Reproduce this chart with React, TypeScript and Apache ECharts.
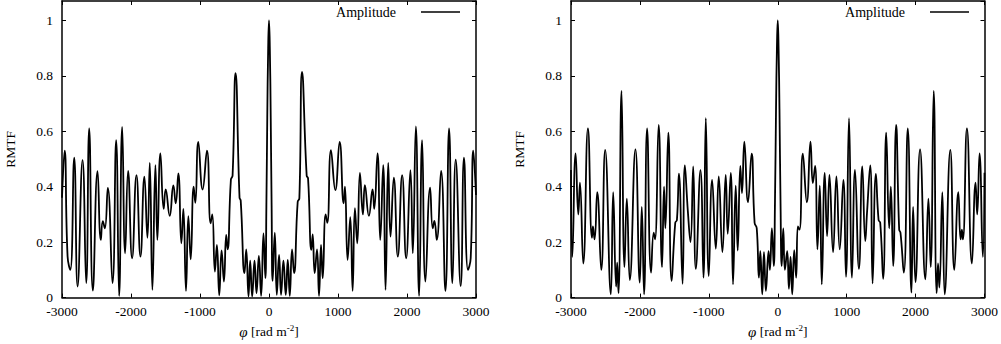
import React, { useEffect, useRef } from "react";
import * as echarts from "echarts";

// ---- Data (phi in rad m^-2, RMTF amplitude) ----
const leftPhi = [
  -3000, -2962, -2919, -2880, -2823, -2774, -2702, -2649, -2606, -2553, -2485, -2437, -2408, -2379, -2336,
  -2268, -2215, -2172, -2128, -2085, -2042, -1984, -1921, -1863, -1806, -1762, -1728, -1690, -1646, -1618,
  -1574, -1526, -1497, -1439, -1386, -1352, -1314, -1270, -1241, -1203, -1169, -1135, -1092, -1068, -1025,
  -962, -899, -846, -822, -784, -755, -721, -687, -653, -620, -600, -552, -528, -485, -427, -410, -355,
  -330, -297, -273, -244, -210, -181, -147, -114, -80, -53, -38, -25, -12, 0, 12, 25, 38, 53, 84, 113,
  146, 175, 209, 243, 272, 301, 334, 363, 416, 440, 479, 546, 566, 614, 633, 662, 696, 725, 754, 778,
  821, 845, 898, 961, 1024, 1082, 1101, 1139, 1178, 1212, 1245, 1279, 1318, 1361, 1390, 1448, 1501,
  1525, 1573, 1612, 1655, 1689, 1728, 1761, 1809, 1867, 1930, 1988, 2050, 2084, 2128, 2176, 2219, 2267,
  2335, 2373, 2397, 2431, 2494, 2557, 2610, 2658, 2706, 2778, 2826, 2884, 2923, 2961, 3000,
];
const leftRmtf = [
  0.36, 0.53, 0.148, 0.1, 0.505, 0.04, 0.496, 0.052, 0.61, 0.025, 0.456, 0.208, 0.276, 0.25, 0.396,
  0.052, 0.568, 0.006, 0.616, 0.16, 0.457, 0.142, 0.442, 0.148, 0.436, 0.216, 0.486, 0.028, 0.478, 0.208,
  0.52, 0.32, 0.39, 0.295, 0.405, 0.34, 0.448, 0.196, 0.32, 0.024, 0.294, 0.138, 0.4, 0.342, 0.562,
  0.39, 0.53, 0.268, 0.3, 0.094, 0.19, 0.008, 0.17, 0.058, 0.226, 0.174, 0.426, 0.44, 0.81, 0.36, 0.35, 0.088,
  0.174, 0.004, 0.133, 0.004, 0.133, 0.016, 0.15, 0.006, 0.232, 0.07, 0.33, 0.65, 0.9, 1.0, 0.9, 0.65, 0.33, 0.06, 0.234, 0.01,
  0.154, 0.01, 0.133, 0.01, 0.136, 0.006, 0.174, 0.088, 0.346, 0.358, 0.814, 0.44, 0.43, 0.172, 0.228, 0.088, 0.174, 0.006, 0.19, 0.07,
  0.3, 0.27, 0.532, 0.388, 0.562, 0.34, 0.4, 0.136, 0.29, 0.024, 0.323, 0.196, 0.45, 0.3, 0.406, 0.295, 0.39,
  0.32, 0.52, 0.208, 0.478, 0.028, 0.486, 0.22, 0.433, 0.148, 0.442, 0.142, 0.46, 0.16, 0.618, 0.006, 0.568, 0.058,
  0.397, 0.25, 0.277, 0.208, 0.457, 0.024, 0.61, 0.052, 0.498, 0.042, 0.505, 0.1, 0.142, 0.53, 0.37,
];

const rightPhi = [
  -3000, -2981, -2933, -2894, -2870, -2822, -2754, -2696, -2682, -2658, -2619, -2561, -2504, -2422, -2388,
  -2345, -2330, -2311, -2267, -2224, -2190, -2147, -2065, -2002, -1973, -1940, -1896, -1838, -1800, -1781,
  -1728, -1679, -1650, -1631, -1588, -1540, -1487, -1463, -1434, -1381, -1348, -1304, -1266, -1227, -1189,
  -1121, -1078, -1044, -1001, -952, -899, -856, -803, -755, -726, -682, -649, -610, -581, -543, -519, -485,
  -432, -379, -336, -305, -273, -253, -225, -200, -172, -133, -114, -85, -58, -40, -25, -12, 0, 12, 25, 40, 58,
  80, 104, 137, 162, 186, 210, 239, 267, 292, 316, 364, 422, 475, 509, 542, 576, 610, 639, 682, 716, 750,
  803, 851, 899, 952, 990, 1034, 1077, 1121, 1178, 1227, 1270, 1295, 1342, 1376, 1424, 1463, 1487, 1530,
  1574, 1617, 1641, 1675, 1718, 1762, 1781, 1829, 1887, 1940, 1964, 1998, 2065, 2142, 2186, 2219, 2263,
  2306, 2326, 2345, 2388, 2422, 2504, 2562, 2620, 2653, 2672, 2687, 2745, 2817, 2870, 2894, 2928, 2976, 3000,
];
const rightRmtf = [
  0.46, 0.147, 0.52, 0.3, 0.415, 0.123, 0.61, 0.216, 0.257, 0.21, 0.38, 0.1, 0.533, 0.012, 0.38,
  0.04, 0.126, 0.016, 0.746, 0.11, 0.357, 0.063, 0.535, 0.054, 0.327, 0.012, 0.61, 0.09, 0.234, 0.21,
  0.623, 0.11, 0.4, 0.25, 0.595, 0.06, 0.27, 0.28, 0.447, 0.05, 0.477, 0.31, 0.2, 0.473, 0.104,
  0.46, 0.072, 0.647, 0.078, 0.425, 0.176, 0.437, 0.164, 0.443, 0.23, 0.45, 0.048, 0.404, 0.17, 0.475, 0.377, 0.563,
  0.344, 0.519, 0.27, 0.25, 0.072, 0.168, 0.012, 0.164, 0.024, 0.168, 0.1, 0.25, 0.114, 0.35, 0.68, 0.9, 1.0, 0.9, 0.68, 0.35, 0.114,
  0.25, 0.1, 0.168, 0.032, 0.147, 0.012, 0.171, 0.072, 0.257, 0.245, 0.519, 0.344, 0.563, 0.413, 0.475, 0.174, 0.404, 0.048, 0.45, 0.222, 0.443,
  0.164, 0.437, 0.174, 0.425, 0.075, 0.647, 0.072, 0.461, 0.104, 0.473, 0.204, 0.305, 0.477, 0.051, 0.446, 0.28, 0.27, 0.068,
  0.595, 0.25, 0.4, 0.114, 0.623, 0.245, 0.234, 0.09, 0.61, 0.018, 0.327, 0.056, 0.535, 0.066, 0.357, 0.11, 0.746,
  0.016, 0.123, 0.036, 0.38, 0.012, 0.533, 0.1, 0.38, 0.21, 0.245, 0.21, 0.61, 0.123, 0.415, 0.3, 0.52, 0.147, 0.45,
];

const xTicks = [-3000, -2000, -1000, 0, 1000, 2000, 3000];
const yTicks = [0, 0.2, 0.4, 0.6, 0.8, 1];
const seriesName = "Amplitude";
const yTitle = "RMTF";

const FONT = "'Liberation Serif', 'Times New Roman', serif";

function pairs(xs: number[], ys: number[]) {
  return xs.map((x, i) => [x, ys[i]]);
}

export default function App() {
  const ref = useRef<HTMLDivElement>(null);

  useEffect(() => {
    if (!ref.current) return;
    const chart = echarts.init(ref.current, null, { renderer: "svg" });

    const grids = [
      { left: 62, top: 1, width: 414, height: 297 },
      { left: 571, top: 1, width: 415, height: 297 },
    ];

    const axisLine = { show: true, onZero: false, lineStyle: { color: "#000", width: 1.5 } };
    const tickIn = { show: true, inside: true, length: 4, lineStyle: { color: "#000", width: 1 } };

    const xAxes: any[] = [];
    const yAxes: any[] = [];
    grids.forEach((_, gi) => {
      xAxes.push({
        type: "value",
        gridIndex: gi,
        min: xTicks[0],
        max: xTicks[xTicks.length - 1],
        interval: 1000,
        position: "bottom",
        axisLine,
        axisTick: tickIn,
        splitLine: { show: false },
        axisLabel: {
          color: "#000",
          fontFamily: FONT,
          fontSize: 13.5,
          margin: 7,
          formatter: (v: number) => String(v),
        },
        name: "{g|φ} [rad m{s|-2}]",
        nameLocation: "middle",
        nameGap: 12,
        nameTextStyle: {
          color: "#000",
          fontFamily: FONT,
          fontSize: 13.5,
          rich: {
            g: { fontFamily: FONT, fontSize: 15, fontStyle: "italic", color: "#000" },
            s: { fontFamily: FONT, fontSize: 9, color: "#000", verticalAlign: "top", padding: [0, 0, 7, 0] },
          },
        },
      });
      xAxes.push({
        type: "value",
        gridIndex: gi,
        min: xTicks[0],
        max: xTicks[xTicks.length - 1],
        interval: 1000,
        position: "top",
        axisLine,
        axisTick: tickIn,
        splitLine: { show: false },
        axisLabel: { show: false },
      });
      yAxes.push({
        type: "value",
        gridIndex: gi,
        min: yTicks[0],
        max: 1.07,
        interval: 0.2,
        position: "left",
        axisLine,
        axisTick: tickIn,
        splitLine: { show: false },
        axisLabel: {
          color: "#000",
          fontFamily: FONT,
          fontSize: 13.5,
          margin: 9,
          showMaxLabel: false,
          formatter: (v: number) => {
            const hit = yTicks.find((t) => Math.abs(t - v) < 1e-6);
            return hit === undefined ? "" : String(hit);
          },
        },
        name: yTitle,
        nameLocation: "middle",
        nameRotate: 90,
        nameGap: 45,
        nameTextStyle: { color: "#000", fontFamily: FONT, fontSize: 13.5 },
      });
      yAxes.push({
        type: "value",
        gridIndex: gi,
        min: yTicks[0],
        max: 1.07,
        interval: 0.2,
        position: "right",
        axisLine,
        axisTick: tickIn,
        splitLine: { show: false },
        axisLabel: { show: false },
      });
    });

    const mkSeries = (gi: number, data: number[][]) => ({
      name: seriesName,
      type: "line",
      xAxisIndex: gi * 2,
      yAxisIndex: gi * 2,
      data,
      symbol: "none",
      showSymbol: false,
      smooth: 0.5,
      clip: true,
      lineStyle: { color: "#000", width: 1.8 },
      itemStyle: { color: "#000" },
    });

    const legendBase = {
      top: 0,
      align: "right",
      orient: "horizontal",
      icon: "rect",
      itemWidth: 39,
      itemHeight: 1.5,
      selectedMode: false,
      data: [seriesName],
      itemStyle: { color: "#000" },
      textStyle: { color: "#000", fontFamily: FONT, fontSize: 14, padding: [0, 20, 0, 0] },
    };

    chart.setOption({
      animation: false,
      backgroundColor: "#fff",
      grid: grids,
      xAxis: xAxes,
      yAxis: yAxes,
      legend: [
        { ...legendBase, right: 536 },
        { ...legendBase, right: 27 },
      ],
      series: [mkSeries(0, pairs(leftPhi, leftRmtf)), mkSeries(1, pairs(rightPhi, rightRmtf))],
    });

    return () => chart.dispose();
  }, []);

  return (
    <div
      ref={ref}
      style={{ position: "absolute", left: 0, top: 0, width: 1001, height: 344, background: "#fff" }}
    />
  );
}
